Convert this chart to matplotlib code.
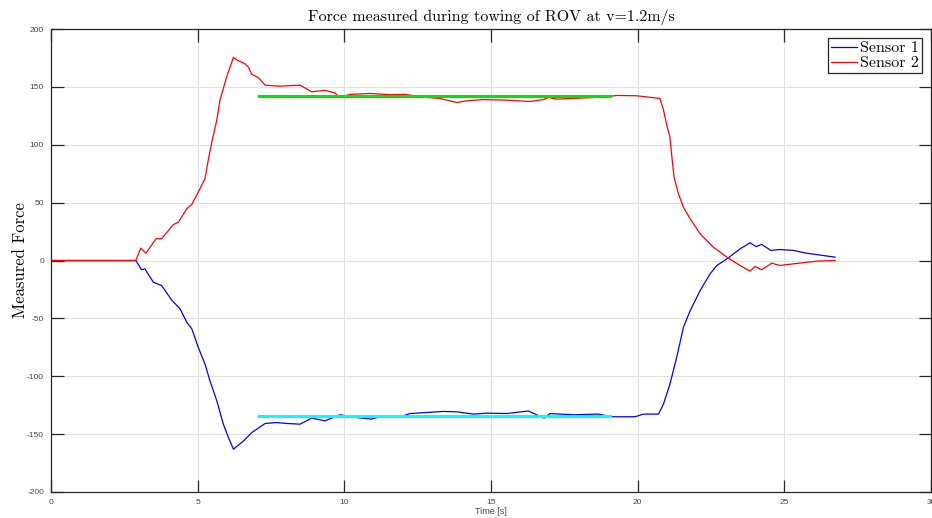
import numpy as np
import matplotlib
matplotlib.use('Agg')
import matplotlib.pyplot as plt

t_s1 = [0, 2.89, 3.09, 3.2, 3.49, 3.77, 4.11, 4.40, 4.63, 4.80, 5.02, 5.25, 5.42,
        5.65, 5.87, 6.05, 6.22, 6.56, 6.84, 7.30, 7.69, 8.04, 8.49, 8.89, 9.34,
        9.85, 10.42, 10.93, 11.33, 11.9, 12.24, 12.81, 13.37, 13.83, 14.4, 14.86,
        15.54, 16.27, 16.81, 17.01, 17.81, 18.66, 19.12, 19.91, 20.2, 20.71,
        20.88, 21.1, 21.33, 21.56, 21.79, 22.13, 22.47, 22.7, 23.04, 23.49,
        23.83, 24.04, 24.23, 24.54, 24.85, 25.31, 25.76, 26.73]
f_s1 = [0, 0, -8, -7.2, -18.8, -21.6, -34, -41.8, -53.4, -59, -75, -89.5, -104,
        -121, -141, -153, -163, -156, -148.7, -140.8, -140, -140.8, -141.4, -136.2,
        -138.5, -133.3, -135.7, -137, -134.2, -135, -132.2, -131.3, -130.4, -130.7,
        -132.7, -131.9, -132.2, -130, -136.2, -132.2, -133.3, -132.7, -135, -135,
        -132.7, -132.7, -124, -106.8, -83.7, -57.7, -43.3, -26, -11.5, -4.3, 1.4,
        10, 15.3, 12, 13.9, 8.7, 9.5, 8.7, 6.3, 2.9]

t_s2 = [0, 2.89, 3.06, 3.24, 3.58, 3.77, 4.17, 4.34, 4.63, 4.80, 5.02, 5.25, 5.36,
        5.48, 5.65, 5.76, 5.99, 6.22, 6.35, 6.61, 6.73, 6.84, 7.07, 7.30, 7.81,
        8.49, 8.89, 9.34, 9.68, 9.83, 10.19, 10.88, 11.56, 12.07, 12.81, 13.26,
        13.83, 14.17, 14.74, 15.54, 16.33, 16.79, 16.96, 17.24, 17.81, 18.49,
        18.95, 19.29, 19.97, 20.76, 20.88, 20.99, 21.1, 21.16, 21.24, 21.39,
        21.56, 21.79, 22.13, 22.58, 23.04, 23.49, 23.83, 24.0, 24.23, 24.57,
        24.85, 25.31, 26.1, 26.73]
f_s2 = [0, 0, 10.7, 6.3, 18.8, 18.8, 31, 33, 44.7, 48.5, 59, 70.7, 86.6, 102, 121,
        138.5, 158.7, 175.5, 173, 170, 167, 161, 158, 151.5, 150.6, 151.5, 145.7,
        147, 144.8, 140.8, 143.5, 144.3, 143.2, 143.5, 140.8, 140, 136.5, 138, 139,
        138.5, 137.4, 139, 140.8, 139.4, 140, 140.8, 141.4, 142.6, 142.3, 140, 130,
        117, 106.8, 91, 72, 57.7, 46, 36, 23, 11.5, 2.9, -4.3, -9.2, -5.2, -8, -2.3,
        -4.3, -2.9, -0.6, 0]

# steady-state means over the plateau
t_mean = [7.09, 19.06]
mean_s1 = [-134, -134]
mean_s2 = [142, 142]

xticks = [0, 5, 10, 15, 20, 25, 30]
yticks = [-200, -150, -100, -50, 0, 50, 100, 150, 200]

SERIF = 'cmr10'
SANS = 'Liberation Sans'
plt.rcParams['axes.unicode_minus'] = False

fig = plt.figure(figsize=(9.32, 5.18), dpi=100)
ax = fig.add_axes([51/932, 26/518, 880/932, 463/518])

ax.plot(t_s1, f_s1, '-', color='#0000ff', lw=0.9, label='Sensor 1')
ax.plot(t_s2, f_s2, '-', color='#ff0000', lw=0.9, label='Sensor 2')
ax.plot(t_mean, mean_s2, '-', color='#00e600', lw=2.2)
ax.plot(t_mean, mean_s1, '-', color='#00ffff', lw=2.2)

ax.set_xlim(0, 30); ax.set_ylim(-200, 200)
ax.set_xticks(xticks); ax.set_yticks(yticks)
ax.tick_params(direction='in', length=9, width=0.9, top=True, right=True,
               labelsize=6, labelcolor='#444444', color='#262626', pad=5)
for lbl in ax.get_xticklabels() + ax.get_yticklabels():
    lbl.set_family(SANS)
ax.grid(color='#e0e0e0', lw=0.8)
ax.set_axisbelow(True)
for s in ax.spines.values():
    s.set_color('#262626'); s.set_linewidth(0.9)

ax.set_xlabel('Time [s]', fontsize=6.5, family=SANS, color='#444444', labelpad=1)
ax.set_ylabel('Measured Force', fontsize=12, family=SERIF, labelpad=-1)
ax.set_title('Force measured during towing of ROV at v=1.2m/s',
             fontsize=11.5, family=SERIF, pad=6)

leg = ax.legend(loc='upper right', prop={'family': SERIF, 'size': 11.5},
                fancybox=False, framealpha=1, edgecolor='#262626',
                handlelength=1.6, handletextpad=0.2, borderpad=0.2,
                labelspacing=0.05, borderaxespad=0.55)
leg.get_frame().set_linewidth(0.9)

fig.savefig('out.png', dpi=100)
plt.close()
